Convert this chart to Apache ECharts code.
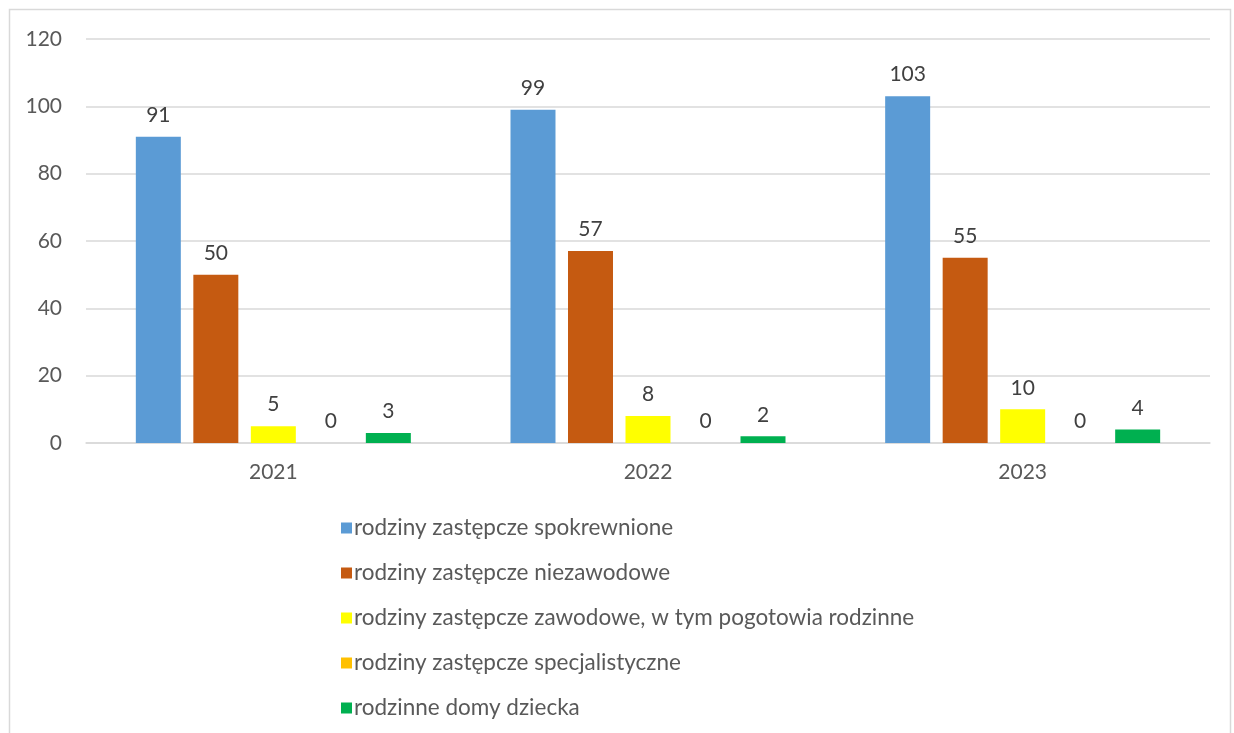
<!DOCTYPE html>
<html>
<head>
<meta charset="utf-8">
<script src="https://cdn.jsdelivr.net/npm/echarts@6/dist/echarts.min.js"></script>
<style>
  html, body { margin: 0; padding: 0; background: #fff; }
  #chart { width: 1234px; height: 733px; }
</style>
</head>
<body>
<div id="chart"></div>
<script>
// dane z wykresu
var years = ["2021", "2022", "2023"];
var seriesNames = [
  "rodziny zastępcze spokrewnione",
  "rodziny zastępcze niezawodowe",
  "rodziny zastępcze zawodowe, w tym pogotowia rodzinne",
  "rodziny zastępcze specjalistyczne",
  "rodzinne domy dziecka"
];
var spokrewnione = [91, 99, 103];
var niezawodowe = [50, 57, 55];
var zawodowe = [5, 8, 10];
var specjalistyczne = [0, 0, 0];
var domyDziecka = [3, 2, 4];
var colors = ["#5b9bd5", "#c55a11", "#ffff00", "#ffc000", "#00b050"];

var allValues = [spokrewnione, niezawodowe, zawodowe, specjalistyczne, domyDziecka];
var font = "Lato, 'Open Sans', sans-serif";

var myChart = echarts.init(document.getElementById("chart"));

var series = allValues.map(function (vals, i) {
  return {
    name: seriesNames[i],
    type: "bar",
    data: vals,
    barGap: "27.8%",
    barCategoryGap: "26.6%",
    itemStyle: { color: colors[i] },
    label: {
      show: true,
      position: "top",
      distance: 11,
      color: "#404040",
      fontSize: 21,
      fontFamily: font
    }
  };
});

myChart.setOption({
  animation: false,
  color: colors,
  graphic: [{
    type: "rect",
    shape: { x: 9.5, y: 9.5, width: 1221, height: 760 },
    style: { fill: null, stroke: "#d9d9d9", lineWidth: 1.5 },
    silent: true
  }],
  grid: { left: 86, right: 24, top: 39, bottom: 290 },
  legend: {
    orient: "vertical",
    left: 341,
    top: 516,
    padding: 0,
    itemWidth: 11,
    itemHeight: 11,
    itemGap: 21,
    icon: "rect",
    data: seriesNames,
    textStyle: { color: "#595959", fontSize: 22.5, fontFamily: font, lineHeight: 24, padding: [0, 0, 0, -3] }
  },
  xAxis: {
    type: "category",
    data: years,
    axisLine: { lineStyle: { color: "#d9d9d9", width: 1.5 } },
    axisTick: { show: false },
    axisLabel: { color: "#595959", fontSize: 21, fontFamily: font, margin: 19 }
  },
  yAxis: {
    type: "value",
    min: 0,
    max: 120,
    interval: 20,
    axisLine: { show: false },
    axisTick: { show: false },
    splitLine: { lineStyle: { color: "#d9d9d9", width: 1.5 } },
    axisLabel: { color: "#595959", fontSize: 21, fontFamily: font, margin: 24 }
  },
  series: series
});
</script>
</body>
</html>
